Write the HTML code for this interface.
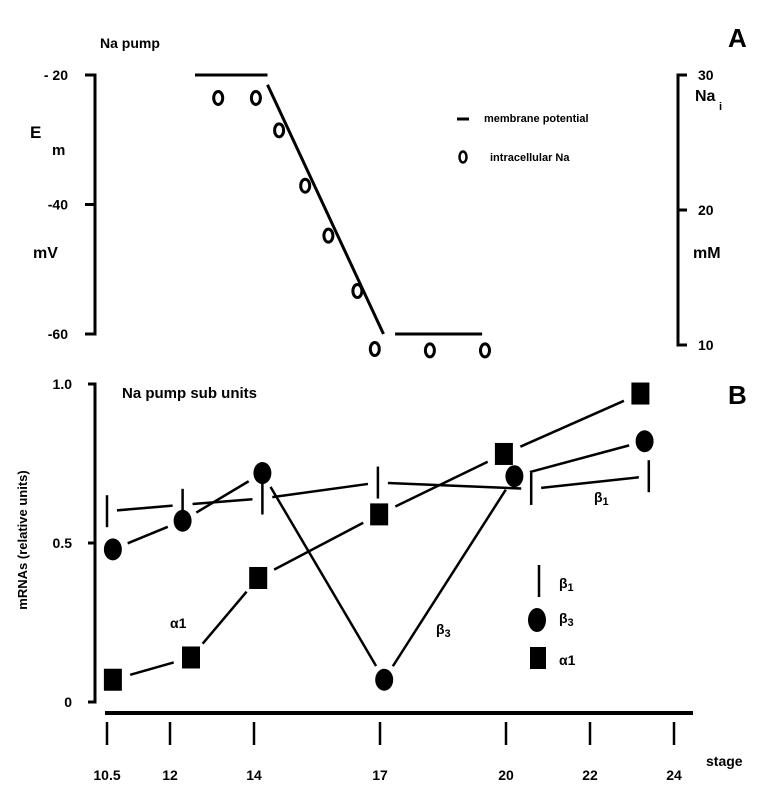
<!DOCTYPE html>
<html><head><meta charset="utf-8"><style>
body{margin:0;background:#fff}
svg{display:block;font-family:"Liberation Sans",sans-serif;font-weight:bold}
</style></head><body>
<svg id="chart" width="762" height="792" viewBox="0 0 762 792">
<g id="A"></g>
<g id="B"></g>
</svg>
<script>
// Panel A data
const aTime = [8, 21, 29, 38, 46, 56, 62, 81, 100];
const aNa = [28.3, 28.3, 25.9, 21.8, 18.1, 14.0, 9.7, 9.6, 9.6];
const emSegX = [[0, 25], [25, 65], [69, 99]];
const emSegY = [[-20, -20], [-21.5, -60], [-60, -60]];
const emTicks = [-20, -40, -60];
const naTicks = [30, 20, 10];
// Panel B data
const stageTicks = [10.5, 12, 14, 17, 20, 22, 24];
const a1Stage = [10.64, 12.5, 14.1, 16.98, 19.95, 23.2];
const a1Val = [0.07, 0.14, 0.39, 0.59, 0.78, 0.97];
const b3Stage = [10.64, 12.3, 14.2, 17.1, 20.2, 23.3];
const b3Val = [0.48, 0.57, 0.72, 0.07, 0.71, 0.82];
const b1Stage = [10.5, 12.3, 14.2, 16.95, 20.6, 23.4];
const b1Val = [0.60, 0.62, 0.64, 0.69, 0.67, 0.71];
const mTicks = [0, 0.5, 1.0];
const mTickLabels = ["0", "0.5", "1.0"];

const NS = "http://www.w3.org/2000/svg";
function mk(parent, tag, attrs, text) {
  const e = document.createElementNS(NS, tag);
  for (const k in attrs) e.setAttribute(k, attrs[k]);
  if (text !== undefined) e.textContent = text;
  parent.appendChild(e);
  return e;
}
const A = document.getElementById('A'), B = document.getElementById('B');
const ax = t => 195 + (t / 100) * 290;
const ay = v => 75 + (-20 - v) / 40 * 259;
const ny = v => 75 + (30 - v) / 20 * 270;
let e;
e = mk(A, 'path', {d: `M85 ${ay(-20)}H95V${ay(-60)}H85`, stroke: '#000', 'stroke-width': 3, fill: 'none'});


emTicks.forEach(v => {
  e = mk(A, 'line', {x1: 85, x2: 95, y1: ay(v), y2: ay(v), stroke: '#000', 'stroke-width': 3});
  
  
  e = mk(A, 'text', {x: 68, y: ay(v) + 5, 'font-size': 14, 'text-anchor': 'end'}, v === -20 ? '- 20' : String(v));
  
  
});
e = mk(A, 'path', {d: `M687 ${ny(30)}H678V${ny(10)}H687`, stroke: '#000', 'stroke-width': 3, fill: 'none'});


naTicks.forEach(v => {
  e = mk(A, 'line', {x1: 678, x2: 687, y1: ny(v), y2: ny(v), stroke: '#000', 'stroke-width': 3});
  
  
  e = mk(A, 'text', {x: 698, y: ny(v) + 5, 'font-size': 14}, String(v));
  
  
});
emSegX.forEach((s, i) => {
  e = mk(A, 'line', {x1: ax(s[0]), x2: ax(s[1]), y1: ay(emSegY[i][0]), y2: ay(emSegY[i][1]), stroke: '#000', 'stroke-width': 3});
  
  
});
aTime.forEach((t, i) => {
  e = mk(A, 'ellipse', {cx: ax(t), cy: ny(aNa[i]), rx: 4.5, ry: 6.5, stroke: '#000', 'stroke-width': 3, fill: 'none'});
  
  
});
const bx = s => 107 + (s - 10.5) * 42;
const by = v => 702 - v * 318;
e = mk(B, 'path', {d: `M88 ${by(1)}H95V${by(0)}H88`, stroke: '#000', 'stroke-width': 3, fill: 'none'});


mTicks.forEach((v, i) => {
  e = mk(B, 'line', {x1: 88, x2: 95, y1: by(v), y2: by(v), stroke: '#000', 'stroke-width': 3});
  
  
  e = mk(B, 'text', {x: 72, y: by(v) + 5, 'font-size': 14, 'text-anchor': 'end'}, mTickLabels[i]);
  
  
});
e = mk(B, 'line', {x1: 105, x2: 693, y1: 713, y2: 713, stroke: '#000', 'stroke-width': 4});


stageTicks.forEach(s => {
  e = mk(B, 'line', {x1: bx(s), x2: bx(s), y1: 722, y2: 745, stroke: '#000', 'stroke-width': 2.5});
  
  
  e = mk(B, 'text', {x: bx(s), y: 780, 'font-size': 14, 'text-anchor': 'middle'}, String(s));
  
  
});
function seg(xs, ys, gap, name) {
  for (let i = 0; i < xs.length - 1; i++) {
    const x1 = bx(xs[i]), y1 = by(ys[i]), x2 = bx(xs[i + 1]), y2 = by(ys[i + 1]);
    const d = Math.hypot(x2 - x1, y2 - y1), ux = (x2 - x1) / d, uy = (y2 - y1) / d;
    e = mk(B, 'line', {x1: x1 + ux * gap, y1: y1 + uy * gap, x2: x2 - ux * gap, y2: y2 - uy * gap, stroke: '#000', 'stroke-width': 2.5});
    
    
  }
}
seg(a1Stage, a1Val, 18, 'alpha1-line');
seg(b3Stage, b3Val, 16, 'beta3-line');
seg(b1Stage, b1Val, 10, 'beta1-line');
a1Stage.forEach((s, i) => {
  e = mk(B, 'rect', {x: bx(s) - 9, y: by(a1Val[i]) - 11, width: 18, height: 22, fill: '#000'});
  
  
});
b3Stage.forEach((s, i) => {
  e = mk(B, 'ellipse', {cx: bx(s), cy: by(b3Val[i]), rx: 9, ry: 11, fill: '#000'});
  
  
});
b1Stage.forEach((s, i) => {
  e = mk(B, 'line', {x1: bx(s), x2: bx(s), y1: by(b1Val[i]) - 16, y2: by(b1Val[i]) + 16, stroke: '#000', 'stroke-width': 2.5});
  
  
});
</script>
<svg style="position:absolute;left:0;top:0" width="762" height="792">
<g font-family="Liberation Sans, sans-serif" font-weight="bold" fill="#000">
<text x="100" y="48" font-size="14">Na pump</text>
<text x="728" y="47" font-size="26">A</text>
<text x="30" y="138" font-size="17">E</text>
<text x="52" y="155" font-size="15">m</text>
<text x="33" y="258" font-size="16">mV</text>
<text x="695" y="101" font-size="16">Na</text>
<text x="719" y="110" font-size="11">i</text>
<text x="693" y="258" font-size="16">mM</text>
<line x1="457" y1="119" x2="469" y2="119" stroke="#000" stroke-width="3"/>
<text x="484" y="122" font-size="11">membrane potential</text>
<ellipse cx="463" cy="157" rx="3.5" ry="5.5" fill="none" stroke="#000" stroke-width="2.5"/>
<text x="490" y="161" font-size="11">intracellular Na</text>
<text x="122" y="398" font-size="15">Na pump sub units</text>
<text x="728" y="404" font-size="26">B</text>
<text transform="translate(27,540) rotate(-90)" font-size="13" text-anchor="middle">mRNAs (relative units)</text>
<text x="706" y="766" font-size="14">stage</text>
<text x="170" y="628" font-size="14">α1</text>
<text x="436" y="634" font-size="14">β<tspan font-size="11" dy="3">3</tspan></text>
<text x="594" y="502" font-size="14">β<tspan font-size="11" dy="3">1</tspan></text>
<line x1="539" y1="565" x2="539" y2="597" stroke="#000" stroke-width="2.5"/>
<text x="559" y="588" font-size="14">β<tspan font-size="11" dy="3">1</tspan></text>
<ellipse cx="537" cy="620" rx="9" ry="12" fill="#000"/>
<text x="559" y="623" font-size="14">β<tspan font-size="11" dy="3">3</tspan></text>
<rect x="530" y="647" width="16" height="22" fill="#000"/>
<text x="559" y="665" font-size="14">α1</text>
</g>
</svg>
</body></html>
